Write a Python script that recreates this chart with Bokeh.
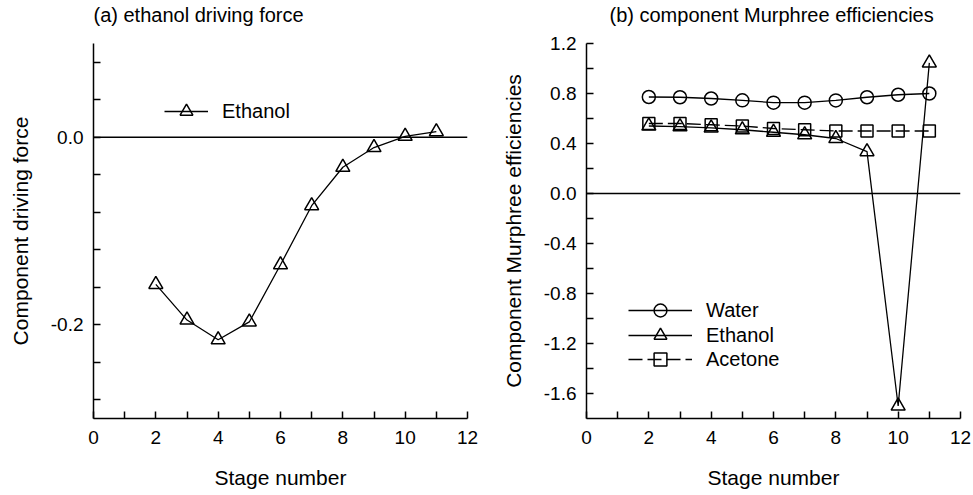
from bokeh.plotting import figure
from bokeh.layouts import row
from bokeh.models import (FixedTicker, PrintfTickFormatter, Span, Legend, LegendItem, Title)
from bokeh.embed import file_html
from bokeh.resources import INLINE

# Stage numbers shared by both panels
stages = [2, 3, 4, 5, 6, 7, 8, 9, 10, 11]

# (a) ethanol driving force per stage
ethanol_force = [-0.157, -0.195, -0.216, -0.197, -0.136, -0.073, -0.032, -0.011, 0.001, 0.006]

# (b) component Murphree efficiencies per stage
water_eff = [0.772, 0.770, 0.760, 0.745, 0.727, 0.727, 0.745, 0.770, 0.790, 0.800]
ethanol_eff = [0.540, 0.535, 0.525, 0.510, 0.490, 0.470, 0.440, 0.335, -1.700, 1.045]
acetone_eff = [0.560, 0.560, 0.550, 0.540, 0.520, 0.510, 0.500, 0.500, 0.500, 0.500]

# Tick positions
x_major = [0, 2, 4, 6, 8, 10, 12]
x_minor = [1, 3, 5, 7, 9, 11]
ya_major = [-0.2, 0.0]
ya_minor = [-0.28, -0.24, -0.16, -0.12, -0.08, -0.04, 0.04, 0.08]
yb_major = [-1.6, -1.2, -0.8, -0.4, 0.0, 0.4, 0.8, 1.2]
yb_minor = [-1.4, -1.0, -0.6, -0.2, 0.2, 0.6, 1.0]

FONT = "Liberation Sans"
TICK_FS = "19px"
LABEL_FS = "21px"
TEXT_FS = "20px"


def style(p, y_major, y_minor, ylabel, heading, heading_offset):
    p.outline_line_color = None
    p.xgrid.visible = False
    p.ygrid.visible = False
    # a thin blank band next to the frame, then the panel heading at the top edge
    p.add_layout(Title(text=" ", text_font_size="6px", standoff=5), "above")
    p.add_layout(Title(text=heading, text_font=FONT, text_font_size=TEXT_FS,
                       text_font_style="normal", text_color="black", align="left",
                       vertical_align="top", standoff=6, offset=heading_offset), "above")
    p.xaxis.ticker = FixedTicker(ticks=x_major, minor_ticks=x_minor)
    p.yaxis.ticker = FixedTicker(ticks=y_major, minor_ticks=y_minor)
    p.yaxis.formatter = PrintfTickFormatter(format="%.1f")
    p.xaxis.axis_label = "Stage number"
    p.yaxis.axis_label = ylabel
    for ax in (p.xaxis[0], p.yaxis[0]):
        ax.axis_line_width = 1.5
        ax.major_tick_line_width = 1.5
        ax.minor_tick_line_width = 1.5
        ax.major_tick_in = 7
        ax.major_tick_out = 0
        ax.minor_tick_in = 7
        ax.minor_tick_out = 0
        ax.major_label_text_font = FONT
        ax.major_label_text_font_size = TICK_FS
        ax.major_label_text_color = "black"
        ax.axis_label_text_font = FONT
        ax.axis_label_text_font_size = LABEL_FS
        ax.axis_label_text_font_style = "normal"
        ax.axis_label_text_color = "black"
    p.xaxis.major_label_standoff = 12
    p.xaxis.axis_label_standoff = 19
    p.yaxis.major_label_standoff = 10
    p.yaxis.axis_label_standoff = 16
    p.add_layout(Span(location=0, dimension="width", line_color="black", line_width=1.3))


def legend(item, loc, width):
    return Legend(items=[item], location=loc, glyph_width=width, glyph_height=32,
                  label_standoff=14, padding=0, margin=0, border_line_alpha=0,
                  background_fill_alpha=0, label_text_font=FONT,
                  label_text_font_size=TEXT_FS, label_text_color="black")


# ---------- (a) ethanol driving force ----------
pa = figure(output_backend="svg", toolbar_location=None,
            frame_width=374, frame_height=375, x_range=(0, 12), y_range=(-0.3, 0.1),
            min_border_left=93, min_border_right=23, min_border_top=43, min_border_bottom=77)
style(pa, ya_major, ya_minor, "Component driving force", "(a) ethanol driving force", 0)
la = pa.line(stages, ethanol_force, line_color="black", line_width=1.3)
sa = pa.scatter(stages, ethanol_force, marker="triangle", size=14, line_color="black",
                line_width=1.5, fill_alpha=0)
pa.add_layout(legend(LegendItem(label="Ethanol", renderers=[la, sa]), (71, 291), 44))

# ---------- (b) component Murphree efficiencies ----------
pb = figure(output_backend="svg", toolbar_location=None, frame_width=374, frame_height=375,
            x_range=(0, 12), y_range=(-1.8, 1.2),
            min_border_left=96, min_border_right=13, min_border_top=43, min_border_bottom=77)
style(pb, yb_major, yb_minor, "Component Murphree efficiencies",
      "(b) component Murphree efficiencies", 23)

lw = pb.line(stages, water_eff, line_color="black", line_width=1.3)
sw = pb.scatter(stages, water_eff, marker="circle", size=13, line_color="black",
                line_width=1.5, fill_alpha=0)
le = pb.line(stages, ethanol_eff, line_color="black", line_width=1.3)
se = pb.scatter(stages, ethanol_eff, marker="triangle", size=14, line_color="black",
                line_width=1.5, fill_alpha=0)
lc = pb.line(stages, acetone_eff, line_color="black", line_width=1.3, line_dash="14 5")
sc = pb.scatter(stages, acetone_eff, marker="square", size=12, line_color="black",
                line_width=1.5, fill_alpha=0)
pb.add_layout(legend(LegendItem(label="Water", renderers=[lw, sw]), (42, 92), 64))
pb.add_layout(legend(LegendItem(label="Ethanol", renderers=[le, se]), (42, 67), 64))
pb.add_layout(legend(LegendItem(label="Acetone", renderers=[lc, sc]), (42, 43), 64))

layout = row(pa, pb)
open("out.html", "w").write(file_html(layout, INLINE))
